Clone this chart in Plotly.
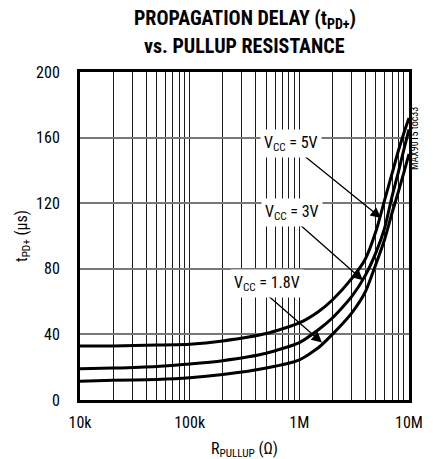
import plotly.graph_objects as go
import math

# ---- data ----
r_pullup = [1e4, 2e4, 5e4, 1e5, 2e5, 5e5, 1e6, 1.5e6, 2e6, 3e6, 4e6, 5e6, 6e6, 7e6, 8e6, 9e6, 1e7]
t_5v  = [33, 33, 33.5, 34, 36, 40.5, 47, 54, 61, 74, 86, 103, 122, 138, 152, 163, 172]
t_3v  = [19, 19.5, 20.5, 22, 24, 28.5, 35, 43, 50, 63, 76, 90, 105, 124, 139, 153, 165]
t_18v = [11.5, 12, 12.5, 13.5, 15.5, 19.5, 24.5, 32, 40, 53, 66, 83, 98, 114, 127, 139, 150]

y_ticks = [0, 40, 80, 120, 160, 200]
x_decades = [1e4, 1e5, 1e6, 1e7]
x_decade_labels = ["10k", "100k", "1M", "10M"]

# label positions (R, t) and arrow tip/tail (R, t)
labels = [
    ("V<sub>CC</sub> = 5V", 0.84e6, 156.5, (5.56e6, 111), (1.01e6, 151)),
    ("V<sub>CC</sub> = 3V", 0.86e6, 114.5, (3.8e6, 73), (0.97e6, 108)),
    ("V<sub>CC</sub> = 1.8V", 0.51e6, 71, (1.61e6, 35), (0.51e6, 64)),
]

FONT = "Roboto Condensed, Liberation Sans Narrow, Liberation Sans, Arial, sans-serif"

# minor grid positions (2..9 of each decade)
minor_vals = [d * m for d in x_decades[:-1] for m in range(2, 10)]

fig = go.Figure()
for ys in [t_5v, t_3v, t_18v]:
    fig.add_trace(go.Scatter(x=r_pullup, y=ys, mode="lines",
                             line=dict(color="black", width=3, shape="spline", smoothing=0.6),
                             showlegend=False, hoverinfo="skip"))

fig.update_xaxes(type="log", range=[4, 7], tickvals=x_decades, ticktext=x_decade_labels,
                 showgrid=True, gridcolor="#1a1a1a", gridwidth=1,
                 minor=dict(tickvals=minor_vals, showgrid=True, gridcolor="#1a1a1a", gridwidth=1, ticks=""),
                 showline=True, linecolor="black", linewidth=3, mirror=True,
                 ticks="", zeroline=False, automargin=False, ticklabelstandoff=6,
                 tickfont=dict(family=FONT, size=16, color="black"))
fig.update_yaxes(range=[0, 200], tickvals=y_ticks,
                 showgrid=True, gridcolor="#777777", gridwidth=1.6,
                 showline=True, linecolor="black", linewidth=3, mirror=True,
                 ticks="", zeroline=False, automargin=False, ticklabelstandoff=14,
                 tickfont=dict(family=FONT, size=16, color="black"))

annotations = []
for text, lx, ly, tip, tail in labels:
    annotations.append(dict(x=math.log10(tip[0]), y=tip[1], ax=math.log10(tail[0]), ay=tail[1],
                            axref="x", ayref="y", xref="x", yref="y", text="",
                            showarrow=True, arrowhead=2, arrowsize=1.6, arrowwidth=1.3,
                            arrowcolor="black"))
for text, lx, ly, tip, tail in labels:
    annotations.append(dict(x=math.log10(lx), y=ly, xref="x", yref="y", text=text,
                            showarrow=False, bgcolor="white", borderpad=3,
                            font=dict(family=FONT, size=16, color="black")))

# axis titles
annotations.append(dict(x=0.5, y=-0.152, xref="paper", yref="paper", yanchor="middle",
                        text="R<sub>PULLUP</sub> (Ω)", showarrow=False,
                        font=dict(family=FONT, size=16, color="black")))
annotations.append(dict(x=-0.176, y=0.5, xref="paper", yref="paper", xanchor="center", yanchor="middle",
                        text="t<sub>PD+</sub> (µs)", textangle=-90, showarrow=False,
                        font=dict(family=FONT, size=16, color="black")))

annotations.append(dict(x=0.5, y=1.163, xref="paper", yref="paper", yanchor="middle",
                        text="<b>PROPAGATION DELAY (t<sub>PD+</sub>)</b>", showarrow=False,
                        font=dict(family=FONT, size=20, color="black")))
annotations.append(dict(x=0.5, y=1.079, xref="paper", yref="paper", yanchor="middle",
                        text="<b>vs. PULLUP RESISTANCE</b>", showarrow=False,
                        font=dict(family=FONT, size=20, color="black")))
annotations.append(dict(x=1.0395, y=0.899, xref="paper", yref="paper",
                        text="MAX9015 toc33", textangle=-90, showarrow=False,
                        font=dict(family=FONT, size=10, color="black")))

fig.update_layout(width=433, height=459, margin=dict(l=80, r=24, t=72, b=59),
                  paper_bgcolor="white", plot_bgcolor="white",
                  annotations=annotations)

fig.write_html("out.html", config={"displayModeBar": False},
               post_script="document.body.style.margin='0';document.body.style.overflow='hidden';")
